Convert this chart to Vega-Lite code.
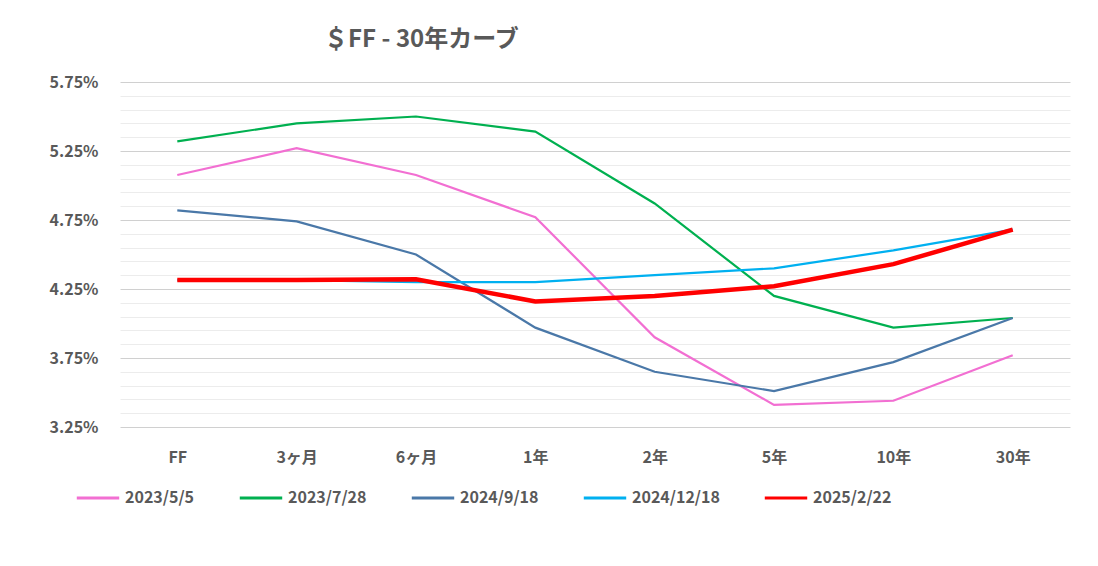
{
  "$schema": "https://vega.github.io/schema/vega-lite/v6.json",
  "width": 950,
  "height": 345,
  "autosize": "none",
  "padding": {"left": 120, "top": 82, "right": 28, "bottom": 139},
  "background": "white",
  "title": {"text": "＄FF - 30年カーブ", "anchor": "start", "dx": 275, "offset": 22, "fontSize": 24, "fontWeight": "bold", "color": "#595959", "font": "Noto Sans CJK JP"},
  "config": {"view": {"stroke": null}, "font": "Noto Sans CJK JP"},
  "data": {"values": [
    {"t": "FF", "s": "2023/5/5", "v": 0.05076}, {"t": "3ヶ月", "s": "2023/5/5", "v": 0.0527}, {"t": "6ヶ月", "s": "2023/5/5", "v": 0.05076}, {"t": "1年", "s": "2023/5/5", "v": 0.0477}, {"t": "2年", "s": "2023/5/5", "v": 0.039}, {"t": "5年", "s": "2023/5/5", "v": 0.0341}, {"t": "10年", "s": "2023/5/5", "v": 0.0344}, {"t": "30年", "s": "2023/5/5", "v": 0.0377},
    {"t": "FF", "s": "2023/7/28", "v": 0.0532}, {"t": "3ヶ月", "s": "2023/7/28", "v": 0.0545}, {"t": "6ヶ月", "s": "2023/7/28", "v": 0.055}, {"t": "1年", "s": "2023/7/28", "v": 0.0539}, {"t": "2年", "s": "2023/7/28", "v": 0.0487}, {"t": "5年", "s": "2023/7/28", "v": 0.042}, {"t": "10年", "s": "2023/7/28", "v": 0.0397}, {"t": "30年", "s": "2023/7/28", "v": 0.0404},
    {"t": "FF", "s": "2024/9/18", "v": 0.0482}, {"t": "3ヶ月", "s": "2024/9/18", "v": 0.0474}, {"t": "6ヶ月", "s": "2024/9/18", "v": 0.045}, {"t": "1年", "s": "2024/9/18", "v": 0.0397}, {"t": "2年", "s": "2024/9/18", "v": 0.0365}, {"t": "5年", "s": "2024/9/18", "v": 0.0351}, {"t": "10年", "s": "2024/9/18", "v": 0.0372}, {"t": "30年", "s": "2024/9/18", "v": 0.0404},
    {"t": "FF", "s": "2024/12/18", "v": 0.04315}, {"t": "3ヶ月", "s": "2024/12/18", "v": 0.04315}, {"t": "6ヶ月", "s": "2024/12/18", "v": 0.043}, {"t": "1年", "s": "2024/12/18", "v": 0.043}, {"t": "2年", "s": "2024/12/18", "v": 0.0435}, {"t": "5年", "s": "2024/12/18", "v": 0.044}, {"t": "10年", "s": "2024/12/18", "v": 0.0453}, {"t": "30年", "s": "2024/12/18", "v": 0.0468},
    {"t": "FF", "s": "2025/2/22", "v": 0.04315}, {"t": "3ヶ月", "s": "2025/2/22", "v": 0.04315}, {"t": "6ヶ月", "s": "2025/2/22", "v": 0.0432}, {"t": "1年", "s": "2025/2/22", "v": 0.0416}, {"t": "2年", "s": "2025/2/22", "v": 0.042}, {"t": "5年", "s": "2025/2/22", "v": 0.0427}, {"t": "10年", "s": "2025/2/22", "v": 0.0443}, {"t": "30年", "s": "2025/2/22", "v": 0.0468}
  ]},
  "encoding": {
    "x": {"field": "t", "type": "ordinal", "sort": ["FF", "3ヶ月", "6ヶ月", "1年", "2年", "5年", "10年", "30年"], "scale": {"type": "point", "padding": 0.48},
      "axis": {"title": null, "labelAngle": 0, "domain": false, "ticks": false, "labelPadding": 22, "labelFontSize": 16, "labelFontWeight": "bold", "labelColor": "#595959"}},
    "y": {"field": "v", "type": "quantitative", "scale": {"domain": [0.0325, 0.0575], "nice": false, "zero": false},
      "axis": {"title": null, "values": [0.0325, 0.0335, 0.0345, 0.0355, 0.0365, 0.0375, 0.0385, 0.0395, 0.0405, 0.0415, 0.0425, 0.0435, 0.0445, 0.0455, 0.0465, 0.0475, 0.0485, 0.0495, 0.0505, 0.0515, 0.0525, 0.0535, 0.0545, 0.0555, 0.0565, 0.0575],
        "format": ".2%", "labelExpr": "abs(round(datum.value*10000) % 50 - 25) < 1 ? datum.label : ''",
        "domain": false, "ticks": false, "labelPadding": 22, "labelFontSize": 16, "labelFontWeight": "bold", "labelColor": "#595959",
        "gridColor": {"condition": {"test": "abs(round(datum.value*10000) % 50 - 25) < 1", "value": "#d0d0d0"}, "value": "#ececec"}, "gridOpacity": 1}},
    "color": {"field": "s", "type": "nominal", "scale": {"domain": ["2023/5/5", "2023/7/28", "2024/9/18", "2024/12/18", "2025/2/22"], "range": ["#f26fd2", "#00b050", "#4a78a8", "#00b0f0", "#ff0000"]},
      "legend": {"title": null, "orient": "none", "legendX": -45, "legendY": 393, "direction": "horizontal", "symbolType": "stroke", "symbolSize": 1800, "symbolStrokeWidth": 3, "labelFontSize": 16, "labelFontWeight": "bold", "labelColor": "#595959", "columnPadding": 38}}
  },
  "layer": [
    {"transform": [{"filter": "datum.s != '2025/2/22'"}], "mark": {"type": "line", "strokeWidth": 2.2}},
    {"transform": [{"filter": "datum.s == '2025/2/22'"}], "mark": {"type": "line", "strokeWidth": 4.5}}
  ]
}
